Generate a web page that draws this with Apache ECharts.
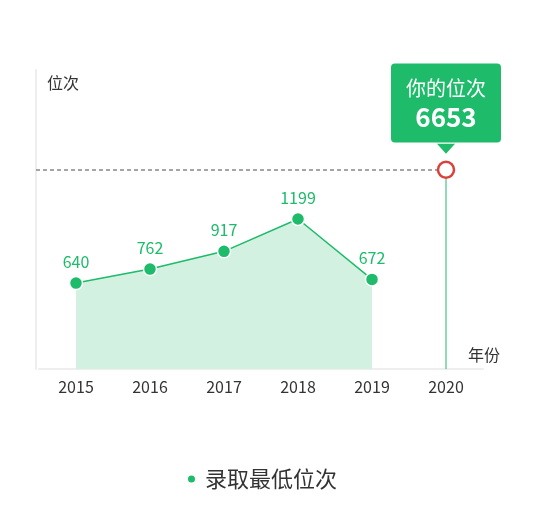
<!DOCTYPE html>
<html>
<head>
<meta charset="utf-8">
<script src="https://cdn.jsdelivr.net/npm/echarts@6/dist/echarts.min.js"></script>
<style>
  html, body { margin: 0; padding: 0; background: #fff; }
  #chart { width: 545px; height: 512px; }
</style>
</head>
<body>
<div id="chart"></div>
<script>
const years = ['2015', '2016', '2017', '2018', '2019', '2020'];
const minRanks = [640, 762, 917, 1199, 672, null];
const myRank = 6653;
// 6653 is far off the scale, the marker sits at this level instead
const myRankLevel = 1630;
const yMin = -110;
const yMax = 2500;

const green = '#1dbb6a';
const font = "'Microsoft YaHei', 'Noto Sans CJK SC', sans-serif";

const myRankData = years.map((y, i) => i === years.length - 1 ? myRankLevel : null);

const chart = echarts.init(document.getElementById('chart'));
chart.setOption({
    backgroundColor: '#fff',
    textStyle: { fontFamily: font },
    grid: { left: 39, right: 62, top: 70, bottom: 143 },
    legend: {
        bottom: 17,
        left: 181,
        icon: 'circle',
        itemWidth: 9,
        itemHeight: 9,
        data: ['录取最低位次'],
        textStyle: { fontSize: 22, color: '#333', fontFamily: font, padding: [0, 0, 0, 4] }
    },
    xAxis: {
        type: 'category',
        data: years,
        name: '年份',
        nameGap: -15,
        nameTextStyle: { fontSize: 16, color: '#333', verticalAlign: 'bottom', padding: [0, 0, 6, 0] },
        axisLine: { onZero: false, lineStyle: { color: '#eee', width: 2 } },
        axisTick: { show: false },
        axisLabel: { fontSize: 16, color: '#333', margin: 10 }
    },
    yAxis: {
        type: 'value',
        min: yMin,
        max: yMax,
        offset: 3,
        name: '位次',
        nameGap: -21,
        nameTextStyle: { fontSize: 16, color: '#333', align: 'left', padding: [0, 0, 0, 11] },
        axisLine: { show: true, lineStyle: { color: '#eee', width: 2 } },
        axisTick: { show: false },
        axisLabel: { show: false },
        splitLine: { show: false }
    },
    series: [
        {
            name: '录取最低位次',
            type: 'line',
            data: minRanks,
            color: green,
            symbol: 'circle',
            symbolSize: 13,
            itemStyle: { color: green, borderColor: '#fff', borderWidth: 1.5 },
            lineStyle: { color: green, width: 1.5 },
            areaStyle: { color: '#d2f1e0', opacity: 1, origin: 'start' },
            label: { show: true, position: 'top', distance: 6, fontSize: 16, color: green },
            z: 3
        },
        {
            name: '你的位次',
            type: 'line',
            data: myRankData,
            symbol: 'circle',
            symbolSize: 16,
            itemStyle: { color: '#fff', borderColor: '#d9413a', borderWidth: 2.5 },
            label: {
                show: true,
                position: 'top',
                distance: 18,
                formatter: '{a|你的位次}\n{b|' + myRank + '}',
                backgroundColor: green,
                borderRadius: 4,
                padding: [11, 15, 9, 15],
                rich: {
                    a: { fontSize: 20, color: '#fff', lineHeight: 27, align: 'center', fontFamily: font },
                    b: { fontSize: 26, fontWeight: 'bold', color: '#fff', lineHeight: 32, align: 'center', fontFamily: font }
                }
            },
            markPoint: {
                symbol: 'triangle',
                symbolRotate: 180,
                symbolSize: [18, 10],
                symbolOffset: [0, -21],
                silent: true,
                itemStyle: { color: green },
                label: { show: false },
                data: [{ coord: ['2020', myRankLevel] }]
            },
            z: 4
        }
    ]
});

// dashed line from the y axis to the marker, placed through the chart's own scales
const yAxisModel = chart.getModel().getComponent('yAxis', 0);
const axisX = yAxisModel.axis.grid.getRect().x - 3;
const mark = chart.convertToPixel({ gridIndex: 0 }, ['2020', myRankLevel]);
chart.setOption({
    series: [{}, {
        markLine: {
            symbol: 'none',
            silent: true,
            z: 1,
            label: { show: false },
            data: [
                [
                    { x: axisX, y: mark[1], lineStyle: { color: '#888', type: [4, 3], width: 1.5 } },
                    { x: mark[0], y: mark[1] }
                ],
                [
                    { coord: ['2020', myRankLevel], lineStyle: { color: 'rgba(29,187,106,0.5)', type: 'solid', width: 2 } },
                    { coord: ['2020', yMin] }
                ]
            ]
        }
    }]
});
</script>
</body>
</html>
